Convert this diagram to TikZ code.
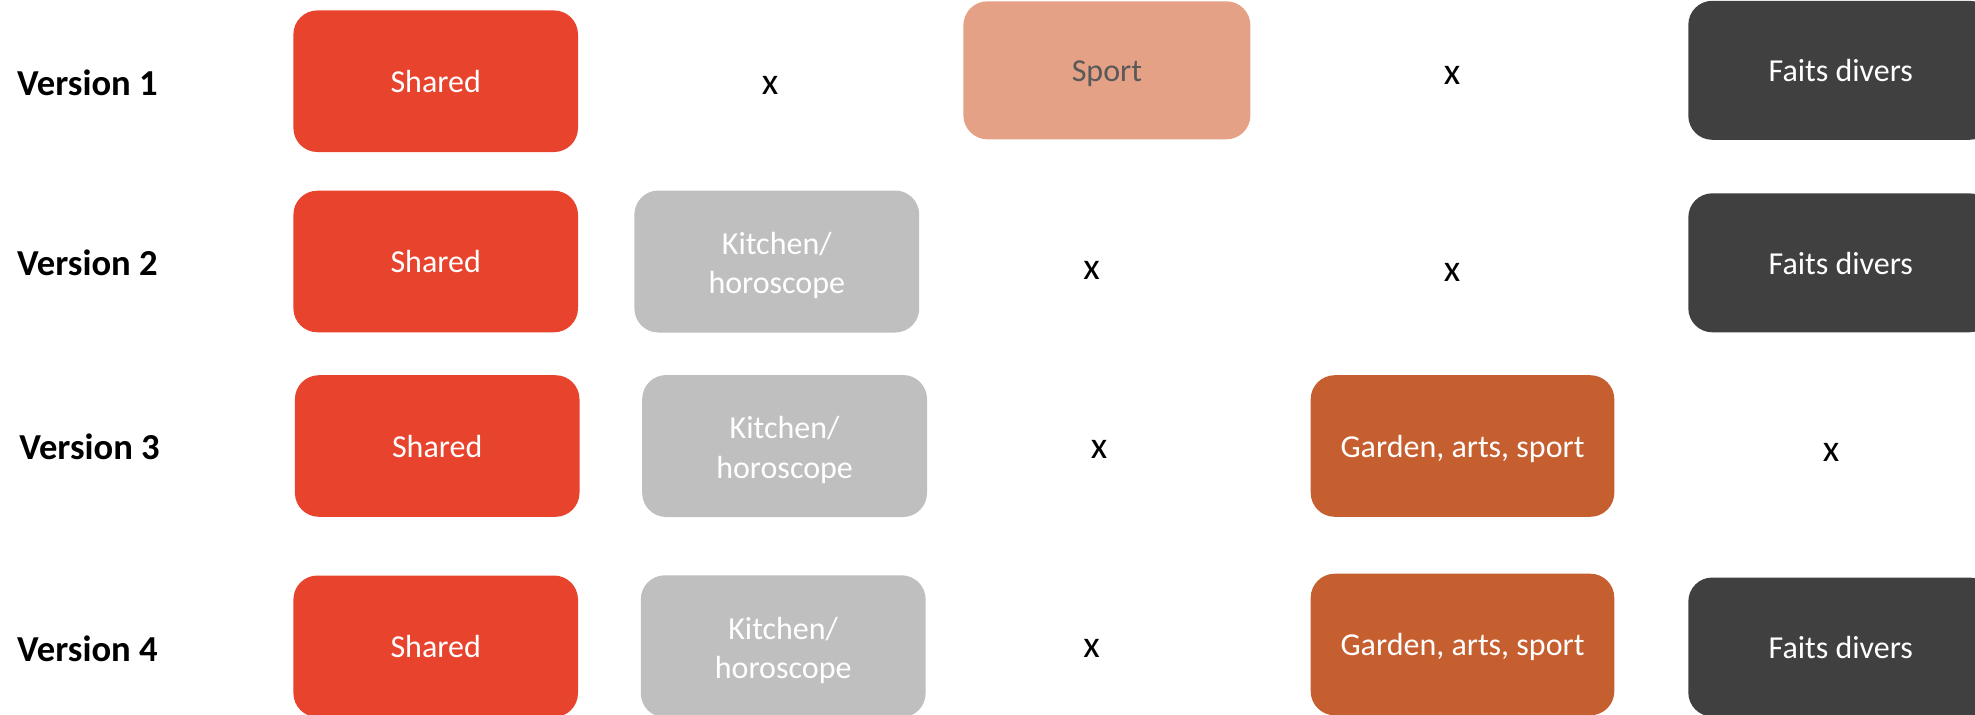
\documentclass[tikz,border=0pt]{standalone}
\usepackage{fontspec}
\setmainfont{Carlito}
\definecolor{sharedred}{HTML}{E8432D}
\definecolor{sportpink}{HTML}{E4A185}
\definecolor{kitgray}{HTML}{BFBFBF}
\definecolor{gardenor}{HTML}{C65F30}
\definecolor{faitsdark}{HTML}{404040}
\definecolor{sporttext}{HTML}{595959}
\tikzset{
  box/.style={rectangle, rounded corners=12pt, inner sep=0pt,
    font=\fontsize{16}{19.7}\selectfont, text=white, text height=11.3pt, text depth=0pt},
  sharedbox/.style={box, fill=sharedred, minimum width=142.3pt, minimum height=70.8pt},
  sportbox/.style={box, fill=sportpink, text=sporttext, minimum width=143.5pt, minimum height=69pt},
  kitbox/.style={box, fill=kitgray, minimum width=142.4pt, minimum height=71pt},
  kittext/.style={inner sep=0pt, align=center, text=white, yshift=-2pt,
    font=\fontsize{16}{19.7}\selectfont},
  gardenbox/.style={box, fill=gardenor, minimum width=151.8pt, minimum height=70.8pt},
  faitsbox/.style={box, fill=faitsdark, minimum width=152.5pt, minimum height=69.5pt},
  vlabel/.style={anchor=west, inner sep=0pt, font=\fontsize{18.3}{22}\selectfont\bfseries},
  xmark/.style={inner sep=0pt, font=\fontsize{19}{22}\selectfont}
}
\begin{document}
\begin{tikzpicture}[x=0.5pt, y=-0.5pt]
\useasboundingbox (0,0) rectangle (1975,714);
\clip (0,0) rectangle (1975,714);
% labels
\node[vlabel] (v1) at (16.8,83) {Version 1};
\node[vlabel] (v2) at (16.8,263) {Version 2};
\node[vlabel] (v3) at (18.9,447) {Version 3};
\node[vlabel] (v4) at (16.8,649) {Version 4};
% row 1
\node[sharedbox] (s1) at (435.7,81.2) {Shared};
\node[xmark] (x11) at (770,85) {x};
\node[sportbox] (sp1) at (1106.9,70.3) {Sport};
\node[xmark] (x12) at (1452,75) {x};
\node[faitsbox] (f1) at (1840.8,70.3) {Faits divers};
% row 2
\node[sharedbox] (s2) at (435.7,261.5) {Shared};
\node[kitbox] (k2) at (776.8,261.5) {};
\node[kittext] (k2t) at (k2.center) {Kitchen/\\horoscope};
\node[xmark] (x21) at (1091.5,270.7) {x};
\node[xmark] (x22) at (1452,272.7) {x};
\node[faitsbox] (f2) at (1840.8,262.8) {Faits divers};
% row 3
\node[sharedbox] (s3) at (437.2,446) {Shared};
\node[kitbox] (k3) at (784.6,446) {};
\node[kittext] (k3t) at (k3.center) {Kitchen/\\horoscope};
\node[xmark] (x31) at (1099,449.7) {x};
\node[gardenbox] (g3) at (1462.5,446) {Garden, arts, sport};
\node[xmark] (x32) at (1831,452) {x};
% row 4
\node[sharedbox] (s4) at (435.7,646.3) {Shared};
\node[kitbox] (k4) at (783.2,646.3) {};
\node[kittext] (k4t) at (k4.center) {Kitchen/\\horoscope};
\node[xmark] (x41) at (1091.5,648) {x};
\node[gardenbox] (g4) at (1462.5,644.5) {Garden, arts, sport};
\node[faitsbox] (f4) at (1840.8,647) {Faits divers};
\end{tikzpicture}
\end{document}
